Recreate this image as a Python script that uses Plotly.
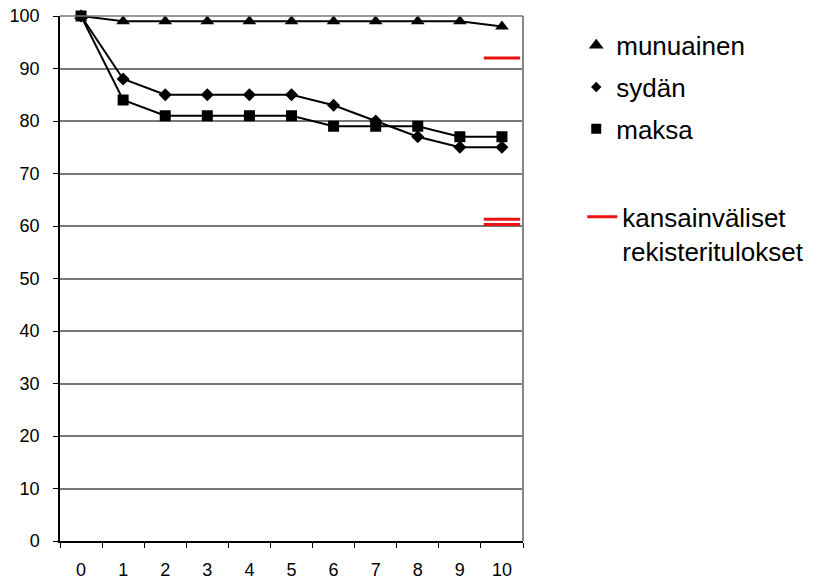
import plotly.graph_objects as go

years = ["0", "1", "2", "3", "4", "5", "6", "7", "8", "9", "10"]
munuainen = [100, 99, 99, 99, 99, 99, 99, 99, 99, 99, 98]
sydan = [100, 88, 85, 85, 85, 85, 83, 80, 77, 75, 75]
maksa = [100, 84, 81, 81, 81, 81, 79, 79, 79, 77, 77]
intl_year = ["10", "10", "10"]
intl_values = [92, 61.3, 60.3]

names = ["munuainen", "sydän", "maksa", "kansainväliset<br>rekisteritulokset"]

FONT = "Liberation Sans, Arial, sans-serif"

fig = go.Figure()

series = [
    (munuainen, "triangle-up", 12, names[0]),
    (sydan, "diamond", 10, names[1]),
    (maksa, "square", 11, names[2]),
]
for vals, sym, size, name in series:
    fig.add_trace(go.Scatter(
        x=years, y=vals, mode="lines+markers",
        line=dict(color="black", width=2),
        marker=dict(symbol=sym, size=size, color="black"),
        showlegend=False, cliponaxis=False, name=name,
    ))

fig.add_trace(go.Scatter(
    x=intl_year, y=intl_values, mode="markers",
    marker=dict(symbol="line-ew", size=26, line=dict(color="#ee1111", width=3)),
    showlegend=False, cliponaxis=False,
))

# legend-only entries
leg_sizes = [13, 8, 10]
for (vals, sym, size, name), ls in zip(series, leg_sizes):
    fig.add_trace(go.Scatter(
        x=[None], y=[None], mode="markers", name=name,
        marker=dict(symbol=sym, size=ls, color="black"),
        legendgroup=name, legend="legend",
    ))
fig.add_trace(go.Scatter(
    x=[None], y=[None], mode="lines", name=names[3],
    line=dict(color="#ee1111", width=3), legend="legend2",
))

fig.update_layout(
    width=824, height=580,
    margin=dict(l=60, r=301, t=16, b=39, autoexpand=False),
    paper_bgcolor="white", plot_bgcolor="white",
    font=dict(family=FONT, color="black", size=18),
    legend=dict(
        x=1.115, y=0.989, xanchor="left", yanchor="top",
        font=dict(family=FONT, size=26, color="black"),
        tracegroupgap=5, bgcolor="rgba(0,0,0,0)",
    ),
    legend2=dict(
        x=1.128, y=0.662, xanchor="left", yanchor="top",
        font=dict(family=FONT, size=26, color="black"),
        valign="top", bgcolor="rgba(0,0,0,0)",
    ),
    xaxis=dict(
        type="category", range=[-0.5, 10.5], automargin=False,
        tickson="boundaries", ticks="outside", ticklen=5, tickcolor="black",
        showline=True, linecolor="black", linewidth=1.5,
        showgrid=False, tickfont=dict(size=18), ticklabelstandoff=12,
    ),
    yaxis=dict(
        range=[0, 100], dtick=10, ticks="outside", ticklen=5, tickcolor="black",
        showline=True, linecolor="black", linewidth=1.5, automargin=False,
        showgrid=True, gridcolor="#777777", gridwidth=1.5,
        zeroline=False, tickfont=dict(size=18), ticklabelstandoff=10,
    ),
    shapes=[
        dict(type="line", xref="paper", yref="paper", x0=1, x1=1, y0=0, y1=1,
             line=dict(color="#888888", width=2)),
        dict(type="line", xref="paper", yref="paper", x0=0, x1=1, y0=1, y1=1,
             line=dict(color="#777777", width=1.5)),
    ],
)

fig.write_html("out.html", config={"displayModeBar": False},
               post_script="document.body.style.margin='0';")
